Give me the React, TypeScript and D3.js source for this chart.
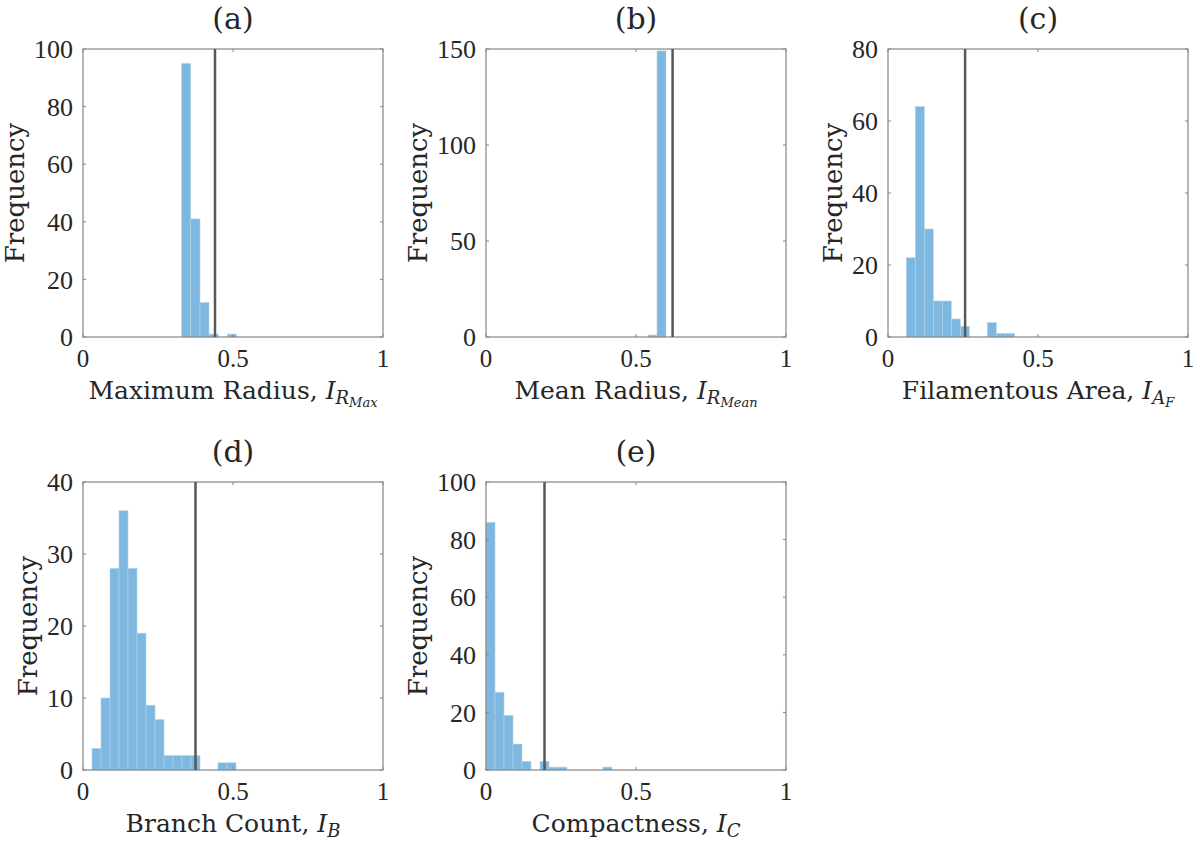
import React, { useEffect, useRef } from 'react';
import * as d3 from 'd3';

// histogram bin edges and counts
const edgesA = [0.329, 0.359, 0.390, 0.420, 0.451, 0.481, 0.512];
const countsA = [95, 41, 12, 1, 0, 1];
const markA = 0.44;

const edgesB = [0.540, 0.570, 0.600];
const countsB = [1, 149];
const markB = 0.622;

const edgesC = [0.061, 0.091, 0.121, 0.151, 0.181, 0.211, 0.241, 0.271, 0.301, 0.331, 0.361, 0.391, 0.421];
const countsC = [22, 64, 30, 10, 10, 5, 3, 0, 0, 4, 1, 1];
const markC = 0.257;

const edgesD = [0.030, 0.060, 0.090, 0.120, 0.150, 0.180, 0.210, 0.240, 0.270, 0.300, 0.330, 0.360, 0.390, 0.420, 0.450, 0.480, 0.510];
const countsD = [3, 10, 28, 36, 28, 19, 9, 7, 2, 2, 2, 2, 0, 0, 1, 1];
const markD = 0.375;

const edgesE = [0, 0.030, 0.060, 0.090, 0.120, 0.150, 0.180, 0.210, 0.240, 0.270, 0.300, 0.330, 0.360, 0.390, 0.420];
const countsE = [86, 27, 19, 9, 3, 0, 3, 1, 1, 0, 0, 0, 0, 1];
const markE = 0.195;

const xTicks = [0, 0.5, 1];
const xTickLabels = ['0', '0.5', '1'];
const yTicksA = [0, 20, 40, 60, 80, 100];
const yTicksB = [0, 50, 100, 150];
const yTicksC = [0, 20, 40, 60, 80];
const yTicksD = [0, 10, 20, 30, 40];
const yTicksE = [0, 20, 40, 60, 80, 100];

const titles = ['(a)', '(b)', '(c)', '(d)', '(e)'];
const labelText = ['Maximum Radius, ', 'Mean Radius, ', 'Filamentous Area, ', 'Branch Count, ', 'Compactness, '];
const labelSub = ['R', 'R', 'A', 'B', 'C'];
const labelSubSub = ['Max', 'Mean', 'F', '', ''];

const W = 1193;
const H = 843;
const serif = "'DejaVu Serif', serif";
const tickFont = "'Liberation Serif', serif";

const panels = [
  { edges: edgesA, counts: countsA, mark: markA, yTicks: yTicksA, left: 83, top: 49 },
  { edges: edgesB, counts: countsB, mark: markB, yTicks: yTicksB, left: 486, top: 49 },
  { edges: edgesC, counts: countsC, mark: markC, yTicks: yTicksC, left: 888, top: 49 },
  { edges: edgesD, counts: countsD, mark: markD, yTicks: yTicksD, left: 83, top: 482 },
  { edges: edgesE, counts: countsE, mark: markE, yTicks: yTicksE, left: 486, top: 482 },
];

const App: React.FC = () => {
  const svgRef = useRef<SVGSVGElement>(null);

  useEffect(() => {
    if (!svgRef.current) return;
    const svg = d3.select(svgRef.current);
    svg.selectAll('*').remove();

    const pw = 300;
    const ph = 288;

    panels.forEach((p, k) => {
      const g = svg.append('g').attr('transform', `translate(${p.left},${p.top})`);
      const x = d3.scaleLinear().domain([0, 1]).range([0, pw]);
      const yMax = p.yTicks[p.yTicks.length - 1];
      const y = d3.scaleLinear().domain([0, yMax]).range([ph, 0]);

      // bars
      const bins = p.counts.map((c, i) => ({ x0: p.edges[i], x1: p.edges[i + 1], c }));
      g.selectAll('.bar')
        .data(bins.filter(b => b.c > 0))
        .enter()
        .append('rect')
        .attr('x', d => x(d.x0))
        .attr('width', d => x(d.x1) - x(d.x0))
        .attr('y', d => y(d.c))
        .attr('height', d => y(0) - y(d.c))
        .attr('fill', '#7eb7df')
        .attr('stroke', '#b4d4ec')
        .attr('stroke-width', 0.6);

      // box
      g.append('rect')
        .attr('x', 0).attr('y', 0).attr('width', pw).attr('height', ph)
        .attr('fill', 'none').attr('stroke', '#868686').attr('stroke-width', 1.2);

      // inward ticks on all sides
      const tickCol = '#868686';
      p.yTicks.forEach(t => {
        g.append('line').attr('x1', 0).attr('x2', 3).attr('y1', y(t)).attr('y2', y(t)).attr('stroke', tickCol);
        g.append('line').attr('x1', pw - 3).attr('x2', pw).attr('y1', y(t)).attr('y2', y(t)).attr('stroke', tickCol);
      });
      xTicks.forEach(t => {
        g.append('line').attr('x1', x(t)).attr('x2', x(t)).attr('y1', ph).attr('y2', ph - 3).attr('stroke', tickCol);
        g.append('line').attr('x1', x(t)).attr('x2', x(t)).attr('y1', 0).attr('y2', 3).attr('stroke', tickCol);
      });

      // vertical marker line
      g.append('line')
        .attr('x1', x(p.mark)).attr('x2', x(p.mark))
        .attr('y1', 0).attr('y2', ph)
        .attr('stroke', '#575757').attr('stroke-width', 2.5);

      // y tick labels
      let maxW = 0;
      p.yTicks.forEach(t => {
        const tx = g.append('text')
          .attr('x', -10).attr('y', y(t))
          .attr('dy', '0.35em')
          .attr('text-anchor', 'end')
          .attr('font-family', tickFont)
          .attr('font-size', 26)
          .attr('fill', '#262626')
          .text(String(t));
        const bb = (tx.node() as SVGTextElement).getBBox();
        maxW = Math.max(maxW, bb.width);
      });

      // x tick labels
      xTicks.forEach((t, i) => {
        g.append('text')
          .attr('x', x(t)).attr('y', ph + 30)
          .attr('text-anchor', 'middle')
          .attr('font-family', tickFont)
          .attr('font-size', 25)
          .attr('fill', '#262626')
          .text(xTickLabels[i]);
      });

      // y label
      const yl = -10 - maxW - 10;
      g.append('text')
        .attr('transform', `translate(${yl},${ph / 2}) rotate(-90)`)
        .attr('text-anchor', 'middle')
        .attr('font-family', serif)
        .attr('font-size', 26)
        .attr('fill', '#262626')
        .text('Frequency');

      // title
      g.append('text')
        .attr('x', pw / 2).attr('y', -20)
        .attr('text-anchor', 'middle')
        .attr('font-family', serif)
        .attr('font-size', 30)
        .attr('fill', '#262626')
        .text(titles[k]);

      // x label with math subscripts
      const xl = g.append('text')
        .attr('x', pw / 2).attr('y', ph + 62)
        .attr('text-anchor', 'middle')
        .attr('font-family', serif)
        .attr('font-size', 25)
        .attr('fill', '#262626');
      xl.append('tspan').text(labelText[k]);
      xl.append('tspan').attr('font-style', 'italic').text('I');
      xl.append('tspan').attr('font-style', 'italic').attr('font-size', 18).attr('dy', 5).text(labelSub[k]);
      if (labelSubSub[k]) {
        xl.append('tspan').attr('font-style', 'italic').attr('font-size', 13).attr('dy', 3).text(labelSubSub[k]);
      }
    });
  }, []);

  return (
    <div style={{ position: 'absolute', left: 0, top: 0, background: '#fff' }}>
      <svg ref={svgRef} width={W} height={H} style={{ display: 'block' }} />
    </div>
  );
};

export default App;
